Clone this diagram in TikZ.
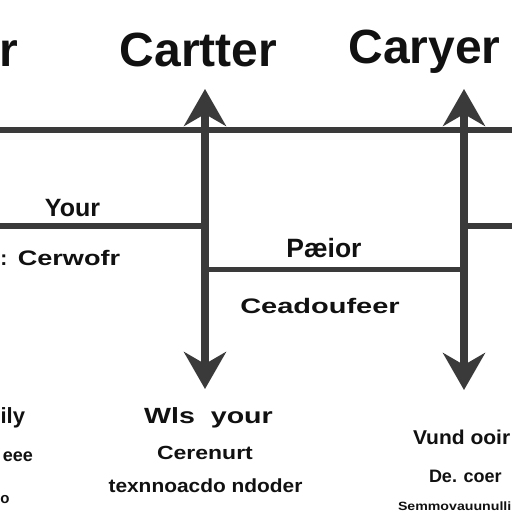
\documentclass[tikz,border=0pt]{standalone}
\usepackage{fontspec}
\usepackage{graphicx}
\setmainfont{Liberation Sans}
\usetikzlibrary{arrows.meta}
\definecolor{linegray}{HTML}{3A3A3A}
\definecolor{inkblack}{HTML}{111111}
\newcommand{\wideby}[2]{\scalebox{#1}[1]{#2}}
\tikzset{
  hline/.style={draw=linegray, line width=5.8pt},
  vline/.style={draw=linegray, line width=7.5pt,
    arrows={Stealth[length=37pt,width=42pt,inset=12pt]-Stealth[length=37pt,width=42pt,inset=12pt]}},
  lbl/.style={inner sep=0pt, outer sep=0pt, text=inkblack, font=\bfseries},
}
\begin{document}
\begin{tikzpicture}[x=1pt,y=-1pt]
\useasboundingbox (0,0) rectangle (512,512);
\fill[white] (0,0) rectangle (512,512);
% coordinates
\coordinate (tl) at (0,130);
\coordinate (tr) at (512,130);
\coordinate (ua) at (205,89);
\coordinate (da) at (205,389);
\coordinate (ub) at (464,89);
\coordinate (db) at (464,390);
\coordinate (yl) at (0,226);
\coordinate (yr) at (205,226);
\coordinate (pl) at (205,269.5);
\coordinate (pr) at (464,269.5);
\coordinate (rl) at (464,226);
\coordinate (rr) at (512,226);
% lines
\draw[hline] (tl) -- (tr);
\draw[hline] (yl) -- (yr);
\draw[hline] (pl) -- (pr);
\draw[hline] (rl) -- (rr);
\draw[vline] (ua) -- (da);
\draw[vline] (ub) -- (db);
% titles
\node[lbl, anchor=base east, font=\fontsize{48}{50}\bfseries\selectfont] (t0) at (18,66) {r};
\node[lbl, anchor=base, font=\fontsize{48}{50}\bfseries\selectfont] (t1) at (198.5,66) {Cartter};
\node[lbl, anchor=base, font=\fontsize{48}{50}\bfseries\selectfont] (t2) at (424.5,63) {Caryer};
% middle labels
\node[lbl, anchor=base, font=\fontsize{25}{27}\bfseries\selectfont] (you) at (72.5,216) {Your};
\node[lbl, anchor=base west, font=\fontsize{21}{23}\bfseries\selectfont] (cl) at (0.5,265) {:};
\node[lbl, anchor=base, font=\fontsize{21}{23}\bfseries\selectfont] (cerw) at (69,265) {\wideby{1.29}{Cerwofr}};
\node[lbl, anchor=base, font=\fontsize{26.5}{28}\bfseries\selectfont] (pel) at (324,257) {Pæior};
\node[lbl, anchor=base, font=\fontsize{21}{23}\bfseries\selectfont] (cead) at (320,313) {\wideby{1.38}{Ceadoufeer}};
% bottom centre
\node[lbl, anchor=base, font=\fontsize{22}{24}\bfseries\selectfont] (wls) at (208.5,423) {\wideby{1.3}{Wls\ \ your}};
\node[lbl, anchor=base, font=\fontsize{19}{21}\bfseries\selectfont] (cere) at (205,459) {\wideby{1.21}{Cerenurt}};
\node[lbl, anchor=base, font=\fontsize{19}{21}\bfseries\selectfont] (tex) at (205.5,492) {\wideby{1.1}{texnnoacdo ndoder}};
% bottom left
\node[lbl, anchor=base east, font=\fontsize{22}{24}\bfseries\selectfont] (ily) at (25,423) {ily};
\node[lbl, anchor=base east, font=\fontsize{18}{20}\bfseries\selectfont] (eee) at (33,461) {eee};
\node[lbl, anchor=base west, font=\fontsize{15}{17}\bfseries\selectfont] (oo) at (0.5,503) {o};
% bottom right
\node[lbl, anchor=base west, font=\fontsize{20}{22}\bfseries\selectfont] (vund) at (413,444) {\wideby{1.05}{Vund ooir}};
\node[lbl, anchor=base west, font=\fontsize{18}{20}\bfseries\selectfont] (deco) at (429,482) {De. coer};
\node[lbl, anchor=base west, font=\fontsize{12}{14}\bfseries\selectfont] (semm) at (398,510.5) {\wideby{1.18}{Semmovauunulli}};
\end{tikzpicture}
\end{document}
